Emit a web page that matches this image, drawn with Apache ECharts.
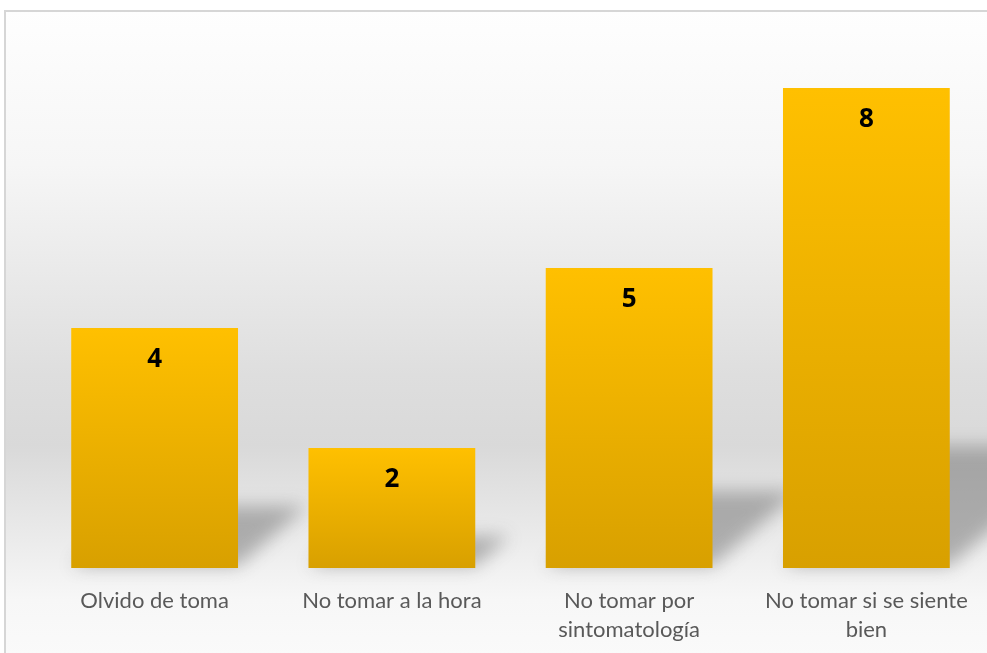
<!DOCTYPE html>
<html>
<head>
<meta charset="utf-8">
<script src="https://cdn.jsdelivr.net/npm/echarts@6/dist/echarts.min.js"></script>
<style>
  html, body { margin: 0; padding: 0; background: #ffffff; }
  #chart { width: 987px; height: 653px; }
</style>
</head>
<body>
<div id="chart"></div>
<script>
// Reasons for not taking the medication
const categories = [
  'Olvido de toma',
  'No tomar a la hora',
  'No tomar por\nsintomatología',
  'No tomar si se siente\nbien'
];
const counts = [4, 2, 5, 8];

const chart = echarts.init(document.getElementById('chart'), null, { renderer: 'canvas' });

const FONT = 'Lato, "Open Sans", sans-serif';

// The shape is drawn far to the left and only its blurred canvas shadow
// is shifted back under the bar, giving a soft cast shadow.
const SHIFT = 2000;

function renderShadow(params, api) {
  const idx = api.value(0);
  const base = api.coord([idx, 0]);
  const top = api.coord([idx, api.value(1)]);
  const bw = api.size([1, 0])[0] * 0.703;
  const h = base[1] - top[1];
  const dy = h * 0.25;
  const dx = dy * 1.15;
  const xl = base[0] - bw / 2 - SHIFT;
  const xr = base[0] + bw / 2 - SHIFT;
  const y0 = base[1] - 2;
  return {
    type: 'polygon',
    silent: true,
    shape: { points: [[xl, y0], [xr, y0], [xr + dx, y0 - dy], [xl + dx, y0 - dy]] },
    style: {
      fill: '#000000',
      shadowBlur: 18,
      shadowOffsetX: SHIFT,
      shadowOffsetY: 0,
      shadowColor: 'rgba(110,110,110,0.5)'
    }
  };
}

const option = {
  animation: false,
  backgroundColor: '#ffffff',
  graphic: [
    {
      type: 'rect',
      z: -100,
      silent: true,
      shape: { x: 5, y: 11, width: 1000, height: 700 },
      style: {
        fill: new echarts.graphic.LinearGradient(0, 0, 0, 1, [
          { offset: 0, color: '#fefefe' },
          { offset: 0.22, color: '#f6f6f6' },
          { offset: 0.52, color: '#dedede' },
          { offset: 0.62, color: '#d9d9d9' },
          { offset: 0.74, color: '#e9e9e9' },
          { offset: 0.84, color: '#f7f7f7' },
          { offset: 1, color: '#fdfdfd' }
        ]),
        stroke: '#d6d6d6',
        lineWidth: 2
      }
    }
  ],
  grid: { left: 36, right: 2, top: 88, bottom: 85, containLabel: false },
  xAxis: {
    type: 'category',
    data: categories,
    axisLine: { show: false },
    axisTick: { show: false },
    splitLine: { show: false },
    axisLabel: {
      interval: 0,
      margin: 18,
      color: '#595959',
      fontFamily: FONT,
      fontSize: 22,
      lineHeight: 29,
      align: 'center'
    }
  },
  yAxis: {
    type: 'value',
    min: 0,
    max: 8,
    show: false,
    splitLine: { show: false }
  },
  series: [
    {
      type: 'custom',
      z: 5,
      clip: false,
      renderItem: renderShadow,
      data: counts.map((v, i) => [i, v])
    },
    {
      type: 'bar',
      z: 6,
      data: counts,
      barWidth: '70.3%',
      itemStyle: {
        color: new echarts.graphic.LinearGradient(0, 0, 0, 1, [
          { offset: 0, color: '#ffc000' },
          { offset: 1, color: '#d8a000' }
        ])
      },
      label: {
        show: true,
        position: 'insideTop',
        distance: 19,
        color: '#000000',
        fontFamily: '"Open Sans", sans-serif',
        fontWeight: 'bold',
        fontSize: 26
      }
    }
  ]
};

chart.setOption(option);
</script>
</body>
</html>
